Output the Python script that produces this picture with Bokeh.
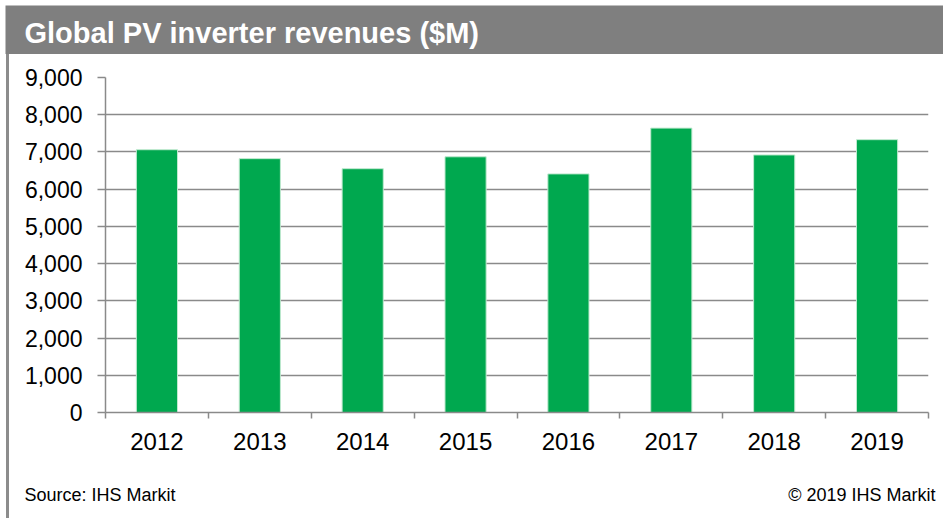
from bokeh.plotting import figure
from bokeh.models import (Range1d, FixedTicker, NumeralTickFormatter, ColumnDataSource,
                          Div, Spacer)
from bokeh.layouts import column, row
from bokeh.core.properties import value
from bokeh.embed import file_html
from bokeh.resources import INLINE

# ---- data ----
years = ["2012", "2013", "2014", "2015", "2016", "2017", "2018", "2019"]
revenues = [7060, 6820, 6550, 6870, 6410, 7640, 6920, 7330]
y_ticks = [0, 1000, 2000, 3000, 4000, 5000, 6000, 7000, 8000, 9000]

title_text = "Global PV inverter revenues ($M)"
source_text = "Source: IHS Markit"
copyright_text = "\u00a9 2019 IHS Markit"

FONT = "Liberation Sans"
GREEN = "#00A84F"
GRAY = "#8a8a8a"
BAR_GRAY = "#7f7f7f"
STRIP_GRAY = "#8c8c8c"


def bare(fig):
    fig.xaxis.visible = False
    fig.yaxis.visible = False
    fig.xgrid.visible = False
    fig.ygrid.visible = False
    fig.outline_line_color = None
    return fig


# ---- header (gray title bar) ----
HW, HH = 943, 54
header = figure(width=HW, height=HH, output_backend="svg", toolbar_location=None,
                x_range=Range1d(0, HW - 5), y_range=Range1d(0, HH - 5),
                min_border_left=5, min_border_top=5, min_border_right=0, min_border_bottom=0)
bare(header)
header.background_fill_color = BAR_GRAY
header.border_fill_color = "white"
header.text(x=[19], y=[22], text=[title_text], text_font=value(FONT),
            text_font_size="29px", text_font_style="bold", text_color="white",
            text_baseline="middle", text_align="left")

# ---- main chart ----
MW, MH = 934, 406
centers = [i + 0.5 for i in range(len(years))]
bounds = [float(i) for i in range(len(years) + 1)]
src = ColumnDataSource(dict(x=centers, top=revenues, year=years))

p = figure(width=MW, height=MH, output_backend="svg", toolbar_location=None,
           x_range=Range1d(0, len(years)), y_range=Range1d(0, 9000),
           min_border_left=96, min_border_right=15, min_border_top=23, min_border_bottom=48)
p.outline_line_color = None
p.background_fill_color = "white"
p.border_fill_color = "white"

p.vbar(x="x", top="top", width=0.4, source=src, fill_color=GREEN,
       line_color="#bfe9cf", line_width=1)

ya = p.yaxis[0]
ya.ticker = FixedTicker(ticks=y_ticks, minor_ticks=[])
ya.formatter = NumeralTickFormatter(format="0,0")
ya.axis_line_color = GRAY
ya.axis_line_width = 1.5
ya.major_tick_line_color = GRAY
ya.major_tick_line_width = 1.5
ya.major_tick_out = 8
ya.major_tick_in = 0
ya.minor_tick_line_color = None
ya.major_label_text_font = FONT
ya.major_label_text_font_size = "23px"
ya.major_label_text_color = "black"
ya.major_label_standoff = 15

xa = p.xaxis[0]
xa.ticker = FixedTicker(ticks=centers, minor_ticks=bounds)
xa.major_label_overrides = {c: y for c, y in zip(centers, years)}
xa.axis_line_color = GRAY
xa.axis_line_width = 1.5
xa.major_tick_line_color = None
xa.major_tick_out = 0
xa.major_tick_in = 0
xa.minor_tick_line_color = GRAY
xa.minor_tick_line_width = 1.5
xa.minor_tick_out = 6
xa.minor_tick_in = 0
xa.major_label_text_font = FONT
xa.major_label_text_font_size = "24px"
xa.major_label_text_color = "black"
xa.major_label_standoff = 14

p.xgrid.visible = False
p.ygrid.grid_line_color = GRAY
p.ygrid.grid_line_width = 1.6

# ---- footer ----
FW, FH = 934, 58
footer = figure(width=FW, height=FH, output_backend="svg", toolbar_location=None,
                x_range=Range1d(0, FW), y_range=Range1d(0, FH),
                min_border_left=0, min_border_top=0, min_border_right=0, min_border_bottom=0)
bare(footer)
footer.background_fill_color = "white"
footer.border_fill_color = "white"
footer.text(x=[15], y=[23.5], text=[source_text], text_font=value(FONT),
            text_font_size="18px", text_color="black",
            text_baseline="middle", text_align="left")
footer.text(x=[926], y=[23.5], text=[copyright_text], text_font=value(FONT),
            text_font_size="18px", text_color="black",
            text_baseline="middle", text_align="right")


def strip(h):
    return Div(text="", width=3, height=h, margin=0,
               styles={"background-color": STRIP_GRAY})


layout = column(
    header,
    row(Spacer(width=6, height=MH, margin=0), strip(MH), p, spacing=0),
    row(Spacer(width=6, height=FH, margin=0), strip(FH), footer, spacing=0),
    spacing=0,
)

open("out.html", "w").write(file_html(layout, INLINE))
